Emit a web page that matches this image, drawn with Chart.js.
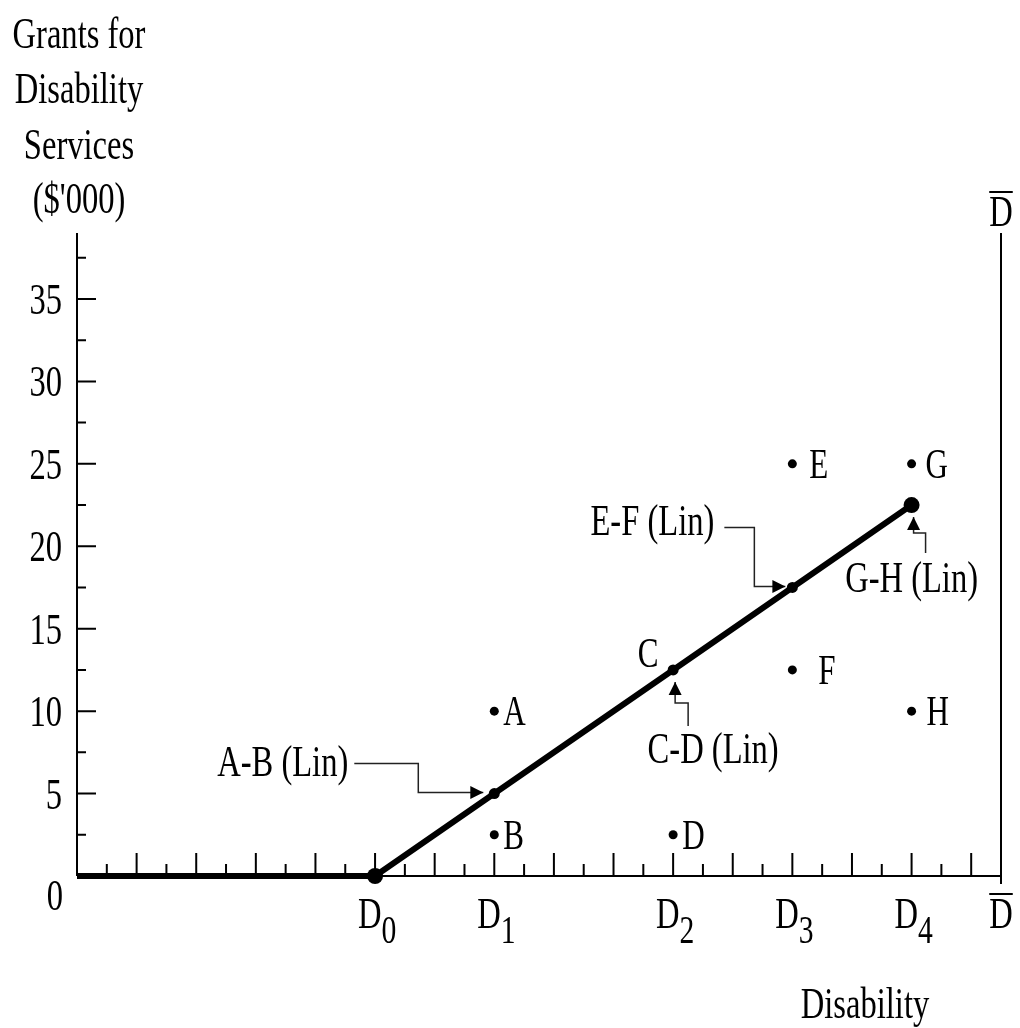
<!DOCTYPE html>
<html>
<head>
<meta charset="utf-8">
<script src="https://cdn.jsdelivr.net/npm/chart.js@4"></script>
<style>
  html, body { margin: 0; padding: 0; background: #fff; }
  #wrap { width: 1020px; height: 1028px; position: relative; }
</style>
</head>
<body>
<div id="wrap"><canvas id="chart"></canvas></div>
<script>
// --- data ---
const yTickValues = [0, 5, 10, 15, 20, 25, 30, 35];
const xTickValues = [10, 14, 20, 24, 28, 31];
const xTickLabels = [["D", "0"], ["D", "1"], ["D", "2"], ["D", "3"], ["D", "4"], ["D̄", ""]];

// grant schedule (kinked line)
const lineX = [0, 10, 14, 20, 24, 28];
const lineY = [0, 0, 5, 12.5, 17.5, 22.5];

// labelled points off the line
const pointNames = ["A", "B", "D", "E", "F", "G", "H"];
const pointX = [14, 14, 20, 24, 24, 28, 28];
const pointY = [10, 2.5, 2.5, 25, 12.5, 25, 10];

// "C" sits on the line
const cPoint = { x: 20, y: 12.5 };

// arrow notes: which line point each one points to
const noteTexts = ["A-B (Lin)", "C-D (Lin)", "E-F (Lin)", "G-H (Lin)"];
const noteTargetX = [14, 20, 24, 28];
const noteTargetY = [5, 12.5, 17.5, 22.5];

const X_MAX = 31;
const Y_MAX = 39;

// --- style / placement (pixels) ---
const FONT = "'Liberation Serif', 'Times New Roman', serif";
const SQUEEZE = 0.74;
const labelDx = { A: 9, B: 9, D: 9, E: 17, F: 26, G: 14, H: 15 };
const notePaths = [
  { text: [-146, -18, "right"], path: [[-140, -30], [-76, -30], [-76, -1], [-11, -1]] },
  { text: [40, 93, "center"], path: [[15, 56], [15, 33], [2, 33], [2, 12]] },
  { text: [-78, -52, "right"], path: [[-68, -60], [-38, -60], [-38, -1], [-7, -1]] },
  { text: [0, 87, "center"], path: [[14, 48], [14, 28], [2, 28], [2, 12]] },
];

function sText(ctx, str, x, y, align, size) {
  ctx.save();
  ctx.font = size + "px " + FONT;
  ctx.fillStyle = "#000";
  ctx.textBaseline = "alphabetic";
  ctx.translate(x, y);
  ctx.scale(SQUEEZE, 1);
  ctx.textAlign = align || "left";
  ctx.fillText(str, 0, 0);
  ctx.restore();
}
function sWidth(ctx, str, size) {
  ctx.save();
  ctx.font = size + "px " + FONT;
  const w = ctx.measureText(str).width * SQUEEZE;
  ctx.restore();
  return w;
}

const axesPlugin = {
  id: "axesPlugin",
  beforeDatasetsDraw(chart) {
    const ctx = chart.ctx;
    const xs = chart.scales.x, ys = chart.scales.y;
    const x0 = xs.getPixelForValue(0), x1 = xs.getPixelForValue(X_MAX);
    const y0 = ys.getPixelForValue(0), y1 = ys.getPixelForValue(Y_MAX);
    ctx.save();
    ctx.strokeStyle = "#000";
    ctx.lineWidth = 2;
    ctx.beginPath();
    // y axis, x axis, right boundary
    ctx.moveTo(x0, y1); ctx.lineTo(x0, y0);
    ctx.moveTo(x0, y0); ctx.lineTo(x1, y0);
    ctx.moveTo(x1, y1); ctx.lineTo(x1, y0 + 8);
    // y ticks (inside)
    for (let v = 2.5; v < Y_MAX; v += 2.5) {
      const py = ys.getPixelForValue(v);
      const len = v % 5 === 0 ? 19 : 9;
      ctx.moveTo(x0, py); ctx.lineTo(x0 + len, py);
    }
    // x ticks (inside)
    for (let v = 1; v < X_MAX; v++) {
      const px = xs.getPixelForValue(v);
      const len = v % 2 === 0 ? 23 : 12;
      ctx.moveTo(px, y0); ctx.lineTo(px, y0 - len);
    }
    ctx.stroke();
    ctx.restore();

    // y tick labels
    yTickValues.forEach((v) => {
      const py = ys.getPixelForValue(v);
      if (v === 0) sText(ctx, "0", 63, py + 34, "right", 44);
      else sText(ctx, String(v), 62, py + 15, "right", 44);
    });
    // x tick labels with subscripts
    xTickValues.forEach((v, i) => {
      const px = xs.getPixelForValue(v);
      const [main, sub] = xTickLabels[i];
      const base = y0 + 52;
      if (sub) {
        const wm = sWidth(ctx, "D", 44), wsub = sWidth(ctx, sub, 40);
        const start = px + 2 - (wm + wsub) / 2;
        sText(ctx, "D", start, base, "left", 44);
        sText(ctx, sub, start + wm, base + 15, "left", 40);
      } else {
        drawDbar(ctx, px, base);
      }
    });
    // D-bar at top of right boundary
    drawDbar(ctx, x1, y1 - 7);

    // axis titles
    const title = ["Grants for", "Disability", "Services", "($'000)"];
    const baselines = [48, 103, 159, 213];
    title.forEach((t, i) => sText(ctx, t, 79, baselines[i], "center", 44));
    sText(ctx, "Disability", 865, 1018, "center", 44);
  },
  afterDatasetsDraw(chart) {
    const ctx = chart.ctx;
    const xs = chart.scales.x, ys = chart.scales.y;
    // point labels
    pointNames.forEach((n, i) => {
      const px = xs.getPixelForValue(pointX[i]);
      const py = ys.getPixelForValue(pointY[i]);
      sText(ctx, n, px + labelDx[n], py + 14, "left", 42);
    });
    sText(ctx, "C", xs.getPixelForValue(cPoint.x) - 25, ys.getPixelForValue(cPoint.y) - 3, "center", 42);

    // arrow notes
    noteTexts.forEach((t, i) => {
      const tx = xs.getPixelForValue(noteTargetX[i]);
      const ty = ys.getPixelForValue(noteTargetY[i]);
      const cfg = notePaths[i];
      sText(ctx, t, tx + cfg.text[0], ty + cfg.text[1], cfg.text[2], 44);
      const pts = cfg.path.map(([dx, dy]) => [tx + dx, ty + dy]);
      ctx.save();
      ctx.strokeStyle = "#222";
      ctx.lineWidth = 1.5;
      ctx.beginPath();
      pts.forEach(([px, py], k) => (k ? ctx.lineTo(px, py) : ctx.moveTo(px, py)));
      ctx.stroke();
      // arrowhead
      const [ax, ay] = pts[pts.length - 1];
      const [bx, by] = pts[pts.length - 2];
      const ang = Math.atan2(ay - by, ax - bx);
      const L = 13, W = 6.5;
      ctx.fillStyle = "#000";
      ctx.beginPath();
      ctx.moveTo(ax, ay);
      ctx.lineTo(ax - L * Math.cos(ang) + W * Math.sin(ang), ay - L * Math.sin(ang) - W * Math.cos(ang));
      ctx.lineTo(ax - L * Math.cos(ang) - W * Math.sin(ang), ay - L * Math.sin(ang) + W * Math.cos(ang));
      ctx.closePath();
      ctx.fill();
      ctx.restore();
    });
  },
};

function drawDbar(ctx, cx, base) {
  const w = sWidth(ctx, "D", 44);
  sText(ctx, "D", cx, base, "center", 44);
  ctx.save();
  ctx.strokeStyle = "#000";
  ctx.lineWidth = 2;
  ctx.beginPath();
  ctx.moveTo(cx - w / 2, base - 34);
  ctx.lineTo(cx + w / 2, base - 34);
  ctx.stroke();
  ctx.restore();
}

new Chart(document.getElementById("chart"), {
  type: "line",
  data: {
    datasets: [
      {
        data: lineX.map((x, i) => ({ x, y: lineY[i] })),
        borderColor: "#000",
        backgroundColor: "#000",
        borderWidth: 6,
        pointRadius: [0, 8, 5.5, 5.5, 5.5, 8],
        pointBorderWidth: 0,
        tension: 0,
        clip: false,
      },
      {
        data: pointX.map((x, i) => ({ x, y: pointY[i] })),
        showLine: false,
        backgroundColor: "#000",
        borderColor: "#000",
        pointRadius: 4.5,
        pointBorderWidth: 0,
        clip: false,
      },
    ],
  },
  options: {
    responsive: true,
    maintainAspectRatio: false,
    animation: false,
    layout: { padding: { left: 77, right: 19, top: 233, bottom: 152 } },
    plugins: { legend: { display: false }, tooltip: { enabled: false } },
    scales: {
      x: { type: "linear", min: 0, max: X_MAX, display: false },
      y: { type: "linear", min: 0, max: Y_MAX, display: false },
    },
  },
  plugins: [axesPlugin],
});
</script>
</body>
</html>
